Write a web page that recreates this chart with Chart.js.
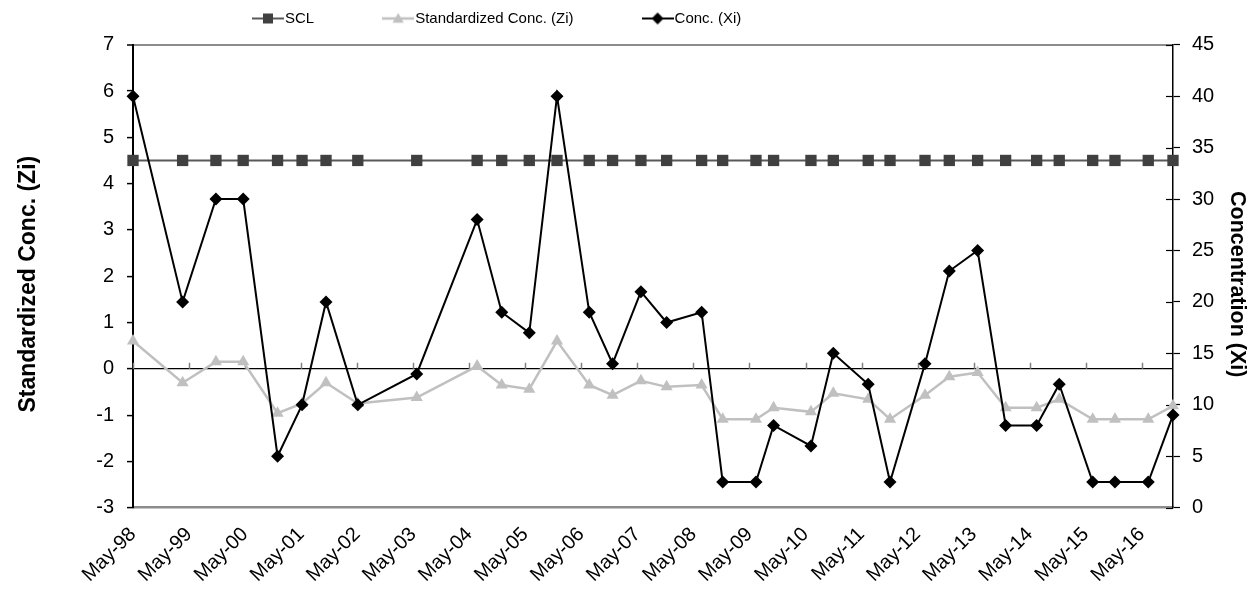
<!DOCTYPE html>
<html>
<head>
<meta charset="utf-8">
<script src="https://cdn.jsdelivr.net/npm/chart.js@4.4.1/dist/chart.umd.min.js"></script>
<style>
  html, body { margin: 0; padding: 0; background: #ffffff; }
  #wrap { width: 1254px; height: 592px; }
</style>
</head>
<body>
<div id="wrap"><canvas id="c" width="1254" height="592"></canvas></div>
<script>
// ---------------- data ----------------
const sampleDates = [
  '1998-05-01', '1999-03-20', '1999-10-24', '2000-04-19', '2000-11-30',
  '2001-05-07', '2001-10-11', '2002-05-05', '2003-05-24', '2004-06-22',
  '2004-11-30', '2005-05-27', '2005-11-25', '2006-06-22', '2006-11-22',
  '2007-05-24', '2007-11-09', '2008-06-24', '2008-11-09', '2009-06-13',
  '2009-10-06', '2010-06-06', '2010-10-30', '2011-06-14', '2011-11-04',
  '2012-06-19', '2012-11-25', '2013-05-27', '2013-11-27', '2014-06-16',
  '2014-11-11', '2015-06-16', '2015-11-09', '2016-06-13', '2016-11-22'
];
const concXi = [
  40, 20, 30, 30, 5,
  10, 20, 10, 13, 28,
  19, 17, 40, 19, 14,
  21, 18, 19, 2.5, 2.5,
  8, 6, 15, 12, 2.5,
  14, 23, 25, 8, 8,
  12, 2.5, 2.5, 2.5, 9
];
const stdZi = [
  0.60, -0.30, 0.15, 0.15, -0.96,
  -0.75, -0.30, -0.75, -0.62, 0.06,
  -0.35, -0.44, 0.60, -0.35, -0.57,
  -0.26, -0.39, -0.35, -1.09, -1.09,
  -0.84, -0.93, -0.53, -0.66, -1.09,
  -0.57, -0.17, -0.08, -0.84, -0.84,
  -0.66, -1.09, -1.09, -1.09, -0.80
];
const sclValues = [
  4.5, 4.5, 4.5, 4.5, 4.5,
  4.5, 4.5, 4.5, 4.5, 4.5,
  4.5, 4.5, 4.5, 4.5, 4.5,
  4.5, 4.5, 4.5, 4.5, 4.5,
  4.5, 4.5, 4.5, 4.5, 4.5,
  4.5, 4.5, 4.5, 4.5, 4.5,
  4.5, 4.5, 4.5, 4.5, 4.5
];
const xTickLabels = [
  'May-98', 'May-99', 'May-00', 'May-01', 'May-02', 'May-03', 'May-04',
  'May-05', 'May-06', 'May-07', 'May-08', 'May-09', 'May-10', 'May-11',
  'May-12', 'May-13', 'May-14', 'May-15', 'May-16'
];
const seriesNames = ['SCL', 'Standardized Conc. (Zi)', 'Conc. (Xi)'];

// ---------------- helpers ----------------
const FONT = "'Liberation Sans', Arial, sans-serif";
const START_YEAR = 1998, START_MONTH = 5;
function dateToMonths(s) {
  const [y, m, d] = s.split('-').map(Number);
  return (y - START_YEAR) * 12 + (m - START_MONTH) + (d - 1) / 30.44;
}
function labelToMonths(label) {
  const yy = Number(label.slice(4));
  const year = yy > 50 ? 1900 + yy : 2000 + yy;
  return (year - START_YEAR) * 12;
}
const xs = sampleDates.map(dateToMonths);
const toPoints = arr => arr.map((v, i) => ({ x: xs[i], y: v }));

const ICON_W = 32, ICON_H = 16;
function legendIcon(kind) {
  const c = document.createElement('canvas');
  c.width = ICON_W; c.height = ICON_H;
  const g = c.getContext('2d');
  const cy = 8, cx = ICON_W / 2;
  if (kind === 'scl') {
    g.strokeStyle = '#595959'; g.lineWidth = 2;
    g.beginPath(); g.moveTo(0, cy); g.lineTo(ICON_W, cy); g.stroke();
    g.fillStyle = '#404040'; g.fillRect(cx - 5, cy - 5, 10, 10);
  } else if (kind === 'zi') {
    g.strokeStyle = '#c0c0c0'; g.lineWidth = 2.5;
    g.beginPath(); g.moveTo(0, cy); g.lineTo(ICON_W, cy); g.stroke();
    g.fillStyle = '#c0c0c0';
    const r = 6.5, ty = cy + 1;
    g.beginPath();
    g.moveTo(cx, ty - r);
    g.lineTo(cx + r * Math.sin(2 * Math.PI / 3), ty + r / 2);
    g.lineTo(cx - r * Math.sin(2 * Math.PI / 3), ty + r / 2);
    g.closePath(); g.fill();
  } else {
    g.strokeStyle = '#000000'; g.lineWidth = 2;
    g.beginPath(); g.moveTo(0, cy); g.lineTo(ICON_W, cy); g.stroke();
    g.fillStyle = '#000000';
    const r = 6;
    g.beginPath();
    g.moveTo(cx, cy - r); g.lineTo(cx + r, cy); g.lineTo(cx, cy + r); g.lineTo(cx - r, cy);
    g.closePath(); g.fill();
  }
  return c;
}
const legendIcons = [legendIcon('scl'), legendIcon('zi'), legendIcon('xi')];

// ---------------- layout targets ----------------
const AREA_LEFT = 133, AREA_RIGHT = 1173, AREA_TOP = 44.7, AREA_BOTTOM = 507.7;
const LEGEND_FONT = 15, LEGEND_BOX = 19, LEGEND_PAD = 74.5;
const LEGEND_X = 252 + (ICON_W / 2 - LEGEND_BOX / 2), LEGEND_Y = 18.5 - LEGEND_FONT / 2;
const TITLE_SHIFT = 8;

const legendPlacer = {
  id: 'legendPlacer',
  afterLayout(chart) {
    const lg = chart.legend;
    if (!lg || !lg.lineWidths) return;
    const pad = lg.options.labels.padding;
    const firstX = (lg.left + pad + lg.right - lg.lineWidths[0]) / 2;
    const dx = LEGEND_X - firstX;
    lg.left += dx;
    lg.right += dx;
    lg.top = LEGEND_Y - pad;
  }
};

// axis titles sit slightly below the middle of the plot in the reference
function lowerTitle(scale) {
  if (scale._titleLowered) return;
  const orig = scale.drawTitle;
  scale.drawTitle = function () {
    this.ctx.save();
    this.ctx.translate(0, TITLE_SHIFT);
    orig.call(this);
    this.ctx.restore();
  };
  scale._titleLowered = true;
}

const axisMarks = {
  id: 'axisMarks',
  beforeDatasetsDraw(chart) {
    const { ctx, chartArea } = chart;
    const { x, y, y2 } = chart.scales;
    ctx.save();
    // small year tick marks sitting on the zero line
    const y0 = y.getPixelForValue(0);
    ctx.strokeStyle = '#808080';
    ctx.lineWidth = 1.5;
    x.ticks.forEach(t => {
      const px = Math.round(x.getPixelForValue(t.value)) + 0.5;
      ctx.beginPath(); ctx.moveTo(px, y0); ctx.lineTo(px, y0 - 6); ctx.stroke();
    });
    // inner half of the crossing ticks on the right axis
    ctx.strokeStyle = '#000000';
    ctx.lineWidth = 1.2;
    y2.ticks.forEach(t => {
      const py = Math.round(y2.getPixelForValue(t.value)) + 0.5;
      ctx.beginPath(); ctx.moveTo(chartArea.right - 7, py); ctx.lineTo(chartArea.right, py); ctx.stroke();
    });
    ctx.restore();
  }
};

// ---------------- chart ----------------
new Chart(document.getElementById('c'), {
  type: 'line',
  data: {
    datasets: [
      {
        label: seriesNames[0], data: toPoints(sclValues), yAxisID: 'y',
        borderColor: '#595959', borderWidth: 2,
        pointStyle: 'rect', pointRadius: 8, pointHoverRadius: 8,
        pointBackgroundColor: '#404040', pointBorderColor: '#404040', pointBorderWidth: 0,
        order: 2, clip: false
      },
      {
        label: seriesNames[1], data: toPoints(stdZi), yAxisID: 'y',
        borderColor: '#c0c0c0', borderWidth: 2.5,
        pointStyle: 'triangle', pointRadius: 7, pointHoverRadius: 7,
        pointBackgroundColor: '#c0c0c0', pointBorderColor: '#c0c0c0', pointBorderWidth: 0,
        order: 1, clip: false
      },
      {
        label: seriesNames[2], data: toPoints(concXi), yAxisID: 'y2',
        borderColor: '#000000', borderWidth: 2,
        pointStyle: 'rectRot', pointRadius: 6.5, pointHoverRadius: 6.5,
        pointBackgroundColor: '#000000', pointBorderColor: '#000000', pointBorderWidth: 0,
        order: 0, clip: false
      }
    ]
  },
  options: {
    responsive: false,
    animation: false,
    devicePixelRatio: 1,
    layout: { padding: 0 },
    elements: { line: { tension: 0 } },
    plugins: {
      tooltip: { enabled: false },
      legend: {
        display: true,
        position: 'top',
        maxHeight: AREA_TOP,
        labels: {
          usePointStyle: true,
          pointStyleWidth: LEGEND_BOX,
          padding: LEGEND_PAD,
          color: '#000000',
          font: { family: FONT, size: LEGEND_FONT },
          generateLabels: () => seriesNames.map((name, i) => ({
            text: name,
            pointStyle: legendIcons[i],
            fillStyle: 'rgba(0,0,0,0)',
            strokeStyle: 'rgba(0,0,0,0)',
            lineWidth: 0,
            fontColor: '#000000',
            hidden: false,
            datasetIndex: i,
            rotation: 0
          }))
        }
      }
    },
    scales: {
      x: {
        type: 'linear',
        position: 'bottom',
        min: 0,
        max: xs[xs.length - 1],
        offset: false,
        grid: { display: false, drawTicks: false },
        border: { display: true, color: '#8c8c8c', width: 2.5 },
        afterBuildTicks: s => { s.ticks = xTickLabels.map(l => ({ value: labelToMonths(l) })); },
        ticks: {
          autoSkip: false,
          minRotation: 45,
          maxRotation: 45,
          padding: 15,
          color: '#000000',
          font: { family: FONT, size: 20 },
          callback: (v, i) => xTickLabels[i]
        },
        afterFit: s => { s.height = 592 - AREA_BOTTOM; }
      },
      y: {
        type: 'linear',
        position: 'left',
        min: -3,
        max: 7,
        ticks: { stepSize: 1, padding: 13, color: '#000000', font: { family: FONT, size: 20 } },
        grid: {
          drawOnChartArea: true,
          color: c => (c.tick && c.tick.value === 0) ? '#000000' : ((c.tick && c.tick.value === 7) ? '#8c8c8c' : 'rgba(0,0,0,0)'),
          lineWidth: c => (c.tick && c.tick.value === 7) ? 2 : 1.2,
          tickColor: '#000000',
          tickWidth: 1.5,
          tickLength: 6
        },
        border: { display: true, color: '#000000', width: 2 },
        title: {
          display: true,
          text: 'Standardized Conc. (Zi)',
          color: '#000000',
          font: { family: FONT, size: 23, weight: 'bold' },
          padding: { top: 15, bottom: 0 }
        },
        afterFit: s => { s.width = AREA_LEFT; },
        afterUpdate: lowerTitle
      },
      y2: {
        type: 'linear',
        position: 'right',
        min: 0,
        max: 45,
        ticks: { stepSize: 5, padding: 12, color: '#000000', font: { family: FONT, size: 20 } },
        grid: { drawOnChartArea: false, tickColor: '#000000', tickWidth: 1.2, tickLength: 7 },
        border: { display: true, color: '#000000', width: 1.5 },
        title: {
          display: true,
          text: 'Concentration (Xi)',
          color: '#000000',
          font: { family: FONT, size: 21.5, weight: 'bold' },
          padding: { top: 4, bottom: 0 }
        },
        afterFit: s => { s.width = 1254 - AREA_RIGHT; },
        afterUpdate: lowerTitle
      }
    }
  },
  plugins: [legendPlacer, axisMarks]
});
</script>
</body>
</html>
